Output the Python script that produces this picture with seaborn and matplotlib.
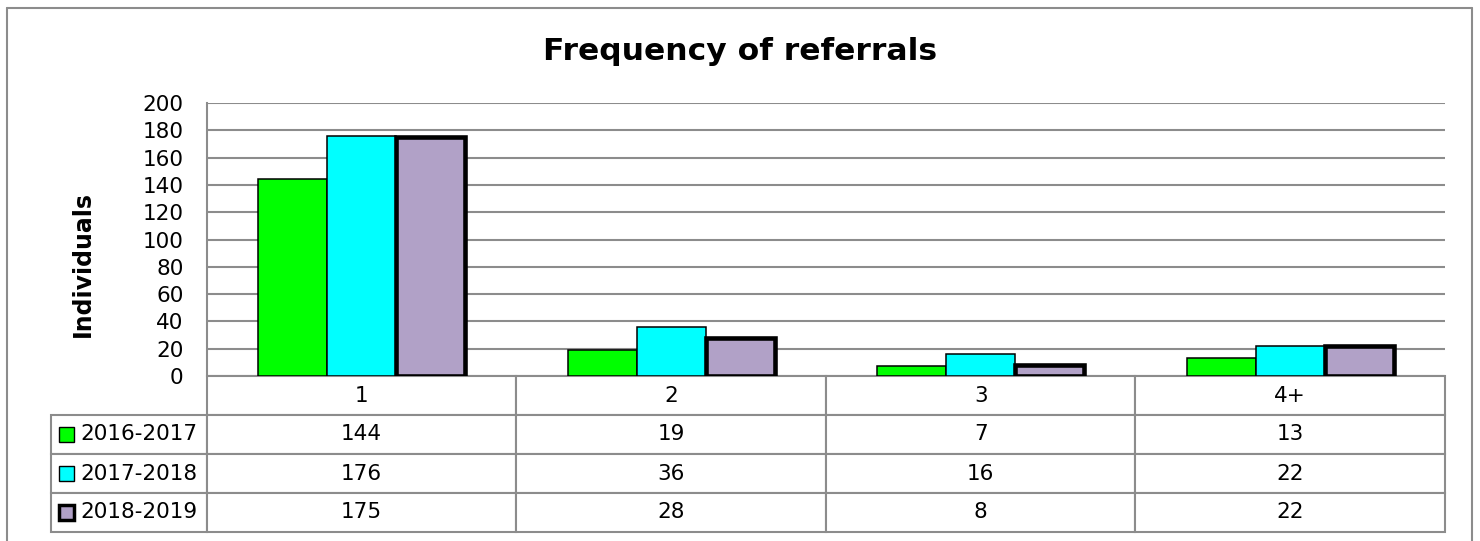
import pandas as pd
import matplotlib.pyplot as plt
import seaborn as sns
from matplotlib.patches import Rectangle
from matplotlib.lines import Line2D

# Data
categories = ["1", "2", "3", "4+"]
seasons = ["2016-2017", "2017-2018", "2018-2019"]
vals_2016 = [144, 19, 7, 13]
vals_2017 = [176, 36, 16, 22]
vals_2018 = [175, 28, 8, 22]
colors = ["#00FF00", "#00FFFF", "#B1A1C7"]

df = pd.DataFrame({
    "cat": categories * 3,
    "season": [s for s in seasons for _ in categories],
    "val": vals_2016 + vals_2017 + vals_2018,
})

sns.set_style("white")
plt.rcParams["font.family"] = ["DejaVu Sans"]
plt.rcParams["text.color"] = "black"
plt.rcParams["axes.labelcolor"] = "black"
plt.rcParams["ytick.color"] = "black"
plt.rcParams["xtick.color"] = "black"

W, H = 1480, 541
fig = plt.figure(figsize=(W / 100, H / 100), dpi=100)

def fx(px):
    return px / W

def fy(py):
    return 1 - py / H

# outer frame (bottom is cut off in the original)
grey = "#8c8c8c"
for xs, ys in [([7, 7], [541, 8]), ([7, 1472], [8, 8]), ([1472, 1472], [8, 541])]:
    fig.add_artist(Line2D([fx(x) for x in xs], [fy(y) for y in ys],
                          color=grey, lw=1.5, transform=fig.transFigure))

ax = fig.add_axes([fx(207), fy(376), fx(1445) - fx(207), fy(103) - fy(376)])
sns.barplot(data=df, x="cat", y="val", hue="season", palette=colors,
            saturation=1, width=0.67, gap=0, edgecolor="black", linewidth=1.1,
            legend=False, ax=ax)
for bar in ax.containers[2]:
    bar.set_linewidth(3.3)

ax.set_ylim(0, 200)
ax.set_yticks(range(0, 201, 20))
ax.set_xlim(-0.5, len(categories) - 0.5)
ax.yaxis.grid(True, color=grey, lw=1.5)
ax.set_axisbelow(True)
for side in ["top", "right", "bottom"]:
    ax.spines[side].set_visible(False)
ax.spines["left"].set_color(grey)
ax.spines["left"].set_linewidth(1.5)
ax.tick_params(axis="y", length=0, pad=17, labelsize=15.5)
ax.tick_params(axis="x", length=0, labelbottom=False)
ax.set_xlabel("")
ax.set_ylabel("Individuals", fontsize=17, fontweight="bold")
ax.yaxis.set_label_coords(-0.0905, 0.41)

fig.text(0.5, fy(52), "Frequency of referrals", ha="center", va="center",
         fontsize=22.6, fontweight="bold")

# data table (first column holds the series names)
rows = [vals_2016, vals_2017, vals_2018]
cell_text = [[s] + [str(v) for v in row] for s, row in zip(seasons, rows)]
label_w = 156 / 310 * 0.25
tb = ax.table(cellText=cell_text, colLabels=[""] + categories,
              colWidths=[label_w] + [0.25] * 4, cellLoc="center",
              bbox=[(51 - 207) / 1238, (376 - 532) / 273, 1 + 156 / 1238, 156 / 273])
tb.auto_set_font_size(False)
tb.set_fontsize(15.5)
for (r, c), cell in tb.get_celld().items():
    cell.set_edgecolor(grey)
    cell.set_linewidth(1.5)
    cell.get_text().set_color("black")
    if c == 0:
        cell._loc = "left"
        cell.get_text().set_horizontalalignment("left")
        cell.PAD = 29 / 156
        if r == 0:
            cell.set_visible(False)

# legend keys inside the row label cells
row_mid = [434.5, 473.5, 512.5]
for i, col in enumerate(colors):
    lw = 2.5 if i == 2 else 1.0
    fig.add_artist(Rectangle((fx(59), fy(row_mid[i] + 7.5)), fx(15), 15 / H,
                             facecolor=col, edgecolor="black", lw=lw,
                             transform=fig.transFigure))

fig.savefig("out.png", dpi=100)
